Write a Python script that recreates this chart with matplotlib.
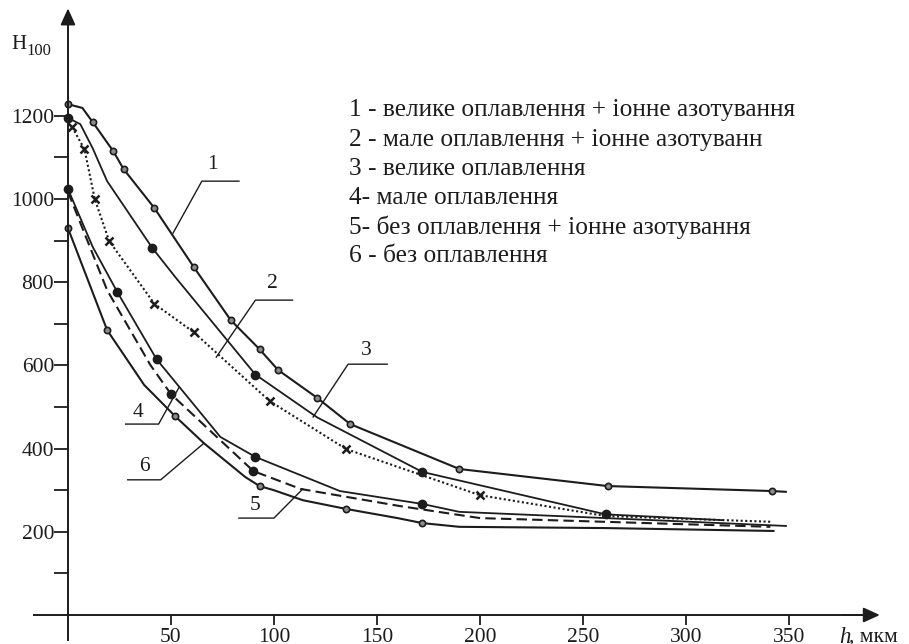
import matplotlib
matplotlib.use("Agg")
import matplotlib.pyplot as plt

# depth h (um) and hardness H100
# 1 - large melting + ion nitriding (solid, open circles)
c1_h = [0, 7, 12, 22, 27, 42, 61, 79, 93, 102, 121, 137, 190, 262, 342, 349]
c1_v = [1228, 1219, 1185, 1115, 1072, 978, 837, 709, 639, 589, 522, 459, 351, 310, 298, 296]
c1_pts = [0, 2, 3, 4, 5, 6, 7, 8, 9, 10, 11, 12, 13, 14]

# 2 - small melting + ion nitriding (dotted, crosses)
c2_h = [2, 8, 13, 20, 42, 61, 98, 135, 200, 261, 342]
c2_v = [1173, 1120, 1000, 899, 748, 680, 514, 399, 288, 238, 224]
c2_pts = [0, 1, 2, 3, 4, 5, 6, 7, 8]

# 3 - large melting (solid, filled dots)
c3_h = [0, 6, 12, 19, 41, 52, 91, 121, 172, 261, 318]
c3_v = [1195, 1180, 1122, 1043, 882, 813, 578, 475, 344, 242, 228]
c3_pts = [0, 4, 6, 8, 9]

# 4 - small melting (solid, filled dots)
c4_h = [0, 12, 24, 43, 74, 91, 132, 172, 190, 261, 349]
c4_v = [1024, 885, 776, 615, 428, 380, 298, 267, 248, 233, 214]
c4_pts = [0, 2, 3, 5, 7]

# 5 - no melting + ion nitriding (dashed, filled dots)
c5_h = [0, 19, 40, 50, 90, 113, 161, 200, 261, 341]
c5_v = [1017, 781, 601, 531, 346, 303, 262, 233, 224, 212]
c5_pts = [3, 4]

# 6 - no melting (solid, open circles)
c6_h = [0, 19, 37, 52, 66, 86, 93, 100, 114, 135, 160, 172, 190, 261, 343]
c6_v = [930, 685, 553, 478, 413, 332, 310, 300, 276, 255, 233, 221, 212, 209, 202]
c6_pts = [0, 1, 3, 6, 9, 11]

legend_lines = [
    "1 - велике оплавлення + іонне азотування",
    "2 - мале оплавлення + іонне азотуванн",
    "3 - велике оплавлення",
    "4- мале оплавлення",
    "5- без оплавлення + іонне азотування",
    "6 - без оплавлення",
]

x_ticks = [50, 100, 150, 200, 250, 300, 350]
y_ticks = [200, 400, 600, 800, 1000, 1200]
y_minor = [100, 300, 500, 700, 900, 1100]

INK = "#1c1c1c"
plt.rcParams["font.family"] = ["Liberation Serif", "DejaVu Serif"]


def draw_curve(ax, h, v, pts, ls, marker, filled, lw=1.5):
    ax.plot(h, v, color=INK, lw=lw, ls=ls, solid_capstyle="butt")
    mh = [h[i] for i in pts]
    mv = [v[i] for i in pts]
    if marker == "x":
        ax.plot(mh, mv, "x", color=INK, ms=6, mew=1.8)
    elif filled:
        ax.plot(mh, mv, "o", color=INK, ms=6, mec=INK)
    else:
        ax.plot(mh, mv, "o", mfc="#8c8c8c", mec=INK, ms=4.5, mew=1.2)


def leader(ax, text, tx, ty, pts):
    xs = [p[0] for p in pts]
    ys = [p[1] for p in pts]
    ax.plot(xs, ys, color=INK, lw=1.0)
    ax.text(tx, ty, text, fontsize=15.5, color=INK, ha="center", va="center")


def make_plot():
    fig = plt.figure(figsize=(9.09, 6.44), dpi=100)
    ax = fig.add_axes([0, 0, 1, 1])
    ax.set_xlim(-33.0, 408.3)
    ax.set_ylim(-69.7, 1478.5)

    for side in ["top", "right"]:
        ax.spines[side].set_visible(False)
    ax.spines["left"].set_position(("data", 0))
    ax.spines["bottom"].set_position(("data", 0))
    ax.spines["left"].set_bounds(-60, 1440)
    ax.spines["bottom"].set_bounds(-16.5, 385)
    for side in ["left", "bottom"]:
        ax.spines[side].set_linewidth(1.4)
        ax.spines[side].set_color(INK)

    ax.annotate("", xy=(0, 1465), xytext=(0, 1420),
                arrowprops=dict(arrowstyle="-|>,head_length=0.55,head_width=0.25",
                                color=INK, lw=1.4, mutation_scale=18))
    ax.annotate("", xy=(395.5, 0), xytext=(375, 0),
                arrowprops=dict(arrowstyle="-|>,head_length=0.55,head_width=0.25",
                                color=INK, lw=1.4, mutation_scale=18))

    ax.set_yticks(y_ticks)
    ax.set_yticks(y_minor, minor=True)
    ax.set_xticks(x_ticks)
    ax.tick_params(axis="y", which="both", direction="out", length=10, width=1.3,
                   color=INK, labelsize=15.5, labelcolor=INK, pad=0)
    ax.tick_params(axis="x", which="both", direction="out", length=7.5, width=1.3,
                   color=INK, labelsize=15.5, labelcolor=INK, pad=2)

    draw_curve(ax, c1_h, c1_v, c1_pts, "-", "o", False)
    draw_curve(ax, c2_h, c2_v, c2_pts, (0, (1, 1.2)), "x", False, lw=1.5)
    draw_curve(ax, c3_h, c3_v, c3_pts, "-", "o", True, lw=1.3)
    draw_curve(ax, c4_h, c4_v, c4_pts, "-", "o", True, lw=1.3)
    draw_curve(ax, c5_h, c5_v, c5_pts, (0, (5, 2.5)), "o", True, lw=1.5)
    draw_curve(ax, c6_h, c6_v, c6_pts, "-", "o", False)

    leader(ax, "1", 70, 1082, [(51, 918), (65, 1043), (83, 1043)])
    leader(ax, "2", 99, 798, [(72, 620), (91, 757), (109, 757)])
    leader(ax, "3", 145, 637, [(119, 476), (136, 603), (155, 603)])
    leader(ax, "4", 34, 488, [(54, 548), (44, 459), (28, 459)])
    leader(ax, "5", 91, 264, [(114, 303), (100, 233), (83, 233)])
    leader(ax, "6", 37, 356, [(66, 413), (45, 325), (29, 325)])

    for i, line in enumerate(legend_lines):
        ax.text(136.5, 1213 - i * 70, line, fontsize=18.3, color=INK, va="center", ha="left")

    ax.text(-27.5, 1371, "H", fontsize=15, color=INK, va="center", ha="left")
    ax.text(-20.3, 1355, "100", fontsize=12, color=INK, va="center", ha="left")
    ax.text(374.5, -53, "h", fontsize=16.5, color=INK, style="italic", va="center", ha="left")
    ax.text(379.3, -53, ", мкм", fontsize=15.5, color=INK, va="center", ha="left")

    fig.savefig("out.png", dpi=100)


def main():
    make_plot()


if __name__ == "__main__":
    main()
